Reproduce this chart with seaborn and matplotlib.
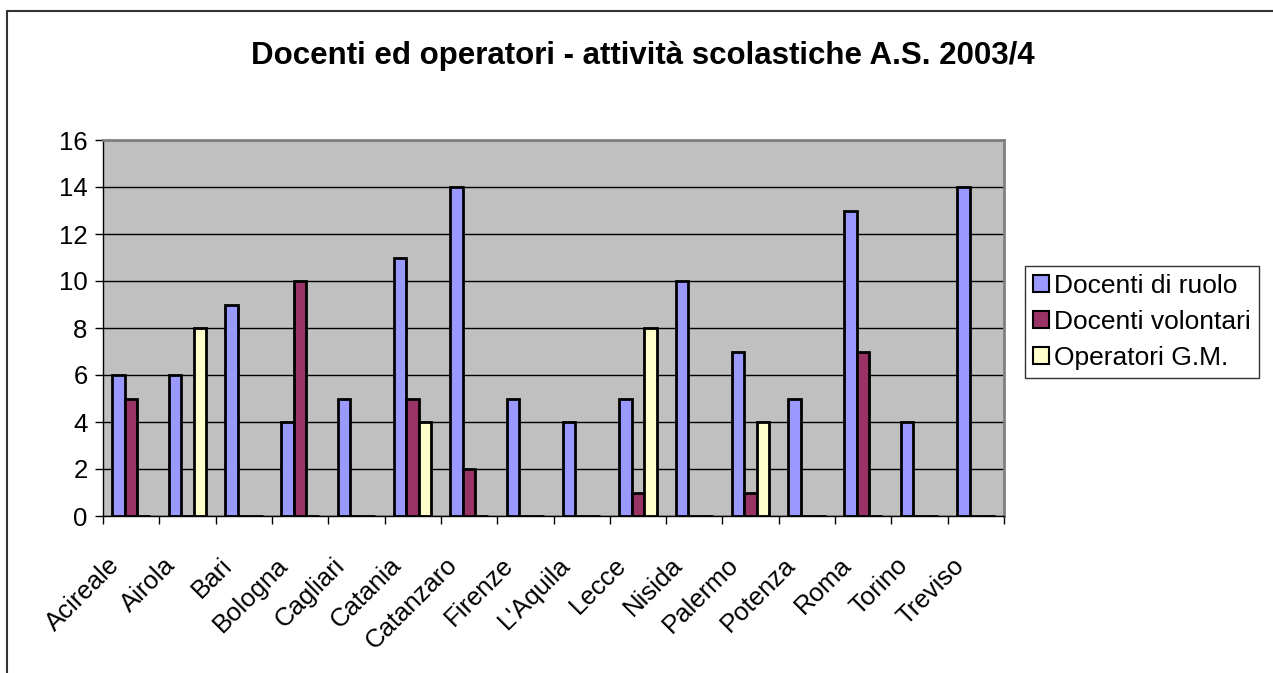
import pandas as pd
import matplotlib.pyplot as plt
import matplotlib.transforms as mtransforms
import seaborn as sns
from matplotlib.lines import Line2D
from matplotlib.patches import Patch

# data
cities = ["Acireale", "Airola", "Bari", "Bologna", "Cagliari", "Catania", "Catanzaro",
          "Firenze", "L'Aquila", "Lecce", "Nisida", "Palermo", "Potenza", "Roma",
          "Torino", "Treviso"]
docenti_ruolo = [6, 6, 9, 4, 5, 11, 14, 5, 4, 5, 10, 7, 5, 13, 4, 14]
docenti_volontari = [5, 0, 0, 10, 0, 5, 2, 0, 0, 1, 0, 1, 0, 7, 0, 0]
operatori_gm = [0, 8, 0, 0, 0, 4, 0, 0, 0, 8, 0, 4, 0, 0, 0, 0]
series = ["Docenti di ruolo", "Docenti volontari", "Operatori G.M."]
colors = ["#9999FF", "#993366", "#FFFFCC"]

df = pd.DataFrame({"city": cities, series[0]: docenti_ruolo,
                   series[1]: docenti_volontari, series[2]: operatori_gm})
long = df.melt(id_vars="city", var_name="serie", value_name="valore")

sns.set_style("white")
plt.rcParams['font.family'] = ['Liberation Sans', 'DejaVu Sans']
plt.rcParams['text.color'] = 'black'
plt.rcParams['xtick.color'] = 'black'
plt.rcParams['ytick.color'] = 'black'

fig = plt.figure(figsize=(12.73, 6.73), dpi=100)
ax = fig.add_axes([103/1273, 1-516/673, 901/1273, 376/673])
ax.set_facecolor("#C0C0C0")

sns.barplot(data=long, x="city", y="valore", hue="serie", palette=colors,
            width=3/4.5, edgecolor="black", linewidth=2, ax=ax, legend=False,
            saturation=1)

ax.set_ylim(0, 16)
ax.set_xlim(-0.5, len(cities) - 0.5)
ax.set_yticks(range(0, 17, 2))
ax.yaxis.grid(True, color="black", linewidth=1)
ax.set_axisbelow(True)
ax.set_xlabel("")
ax.set_ylabel("")

# ticks between categories on x axis
ax.set_xticks([i - 0.5 for i in range(len(cities) + 1)], minor=True)
ax.tick_params(axis="x", which="minor", length=6, width=1, direction="out", bottom=True)
ax.tick_params(axis="x", which="major", length=0, labelsize=18.5, pad=8)
ax.tick_params(axis="y", length=6, width=1, direction="out", left=True, labelsize=18.5, pad=5)
offset = mtransforms.ScaledTranslation(-24/100, -26/100, fig.dpi_scale_trans)
for lab in ax.get_xticklabels():
    lab.set_rotation(45)
    lab.set_ha("right")
    lab.set_rotation_mode("anchor")
    lab.set_transform(lab.get_transform() + offset)

for side in ["left", "bottom"]:
    ax.spines[side].set_color("black")
    ax.spines[side].set_linewidth(1)
for side in ["top", "right"]:
    ax.spines[side].set_color("#808080")
    ax.spines[side].set_linewidth(2)

fig.text(643/1273, 1-56/673, "Docenti ed operatori - attività scolastiche A.S. 2003/4",
         ha="center", va="center", fontsize=22.5, fontweight="bold", color="black")

handles = [Patch(facecolor=c, edgecolor="black", linewidth=1.5) for c in colors]
leg = fig.legend(handles, series, loc="upper left", bbox_to_anchor=(1025/1273, 1-266/673),
                 frameon=True, fancybox=False, fontsize=19, handlelength=0.6,
                 handleheight=0.6, handletextpad=0.2, borderpad=0.3, labelspacing=0.45,
                 borderaxespad=0)
leg.get_frame().set_edgecolor("black")
leg.get_frame().set_linewidth(1)

# outer chart border (left and top edges visible)
fig.add_artist(Line2D([7/1273, 7/1273], [0, 1-11/673], color="#333333", linewidth=1.5))
fig.add_artist(Line2D([7/1273, 1], [1-11/673, 1-11/673], color="#333333", linewidth=1.5))

plt.savefig("out.png", dpi=100)
